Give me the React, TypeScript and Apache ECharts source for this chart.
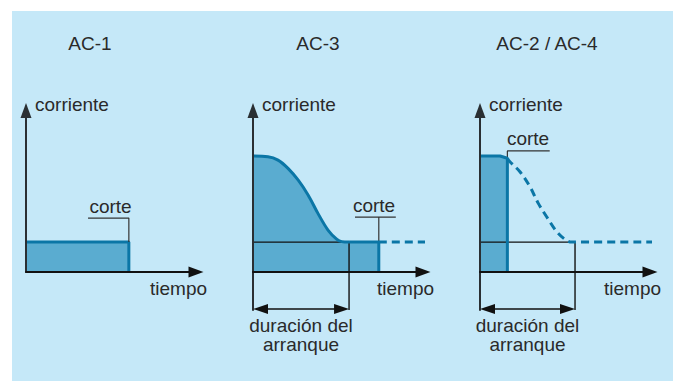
import React, { useEffect, useRef } from "react";
import * as echarts from "echarts";

// ---------- data ----------
const panelTitles = ["AC-1", "AC-3", "AC-2 / AC-4"];
const currentName = "corriente";
const timeName = "tiempo";
const cutName = "corte";
const durationName = ["duración del", "arranque"];

const timeMax = 10;
const currentMax = 10;
const currentMin = [0, -2.35, -2.35];
const nominal = 1.85;

// AC-1
const ac1Time = [0, 6.05, 6.05];
const ac1Current = [nominal, nominal, 0];
const ac1LeaderTime = [3.65, 6.05, 6.05];
const ac1LeaderCurrent = [3.34, 3.34, nominal];

// AC-3
const ac3CurveTime = [0, 0.88, 1.47, 2.06, 2.65, 3.24, 3.82, 4.41, 4.92, 5.22, 5.65];
const ac3CurveCurrent = [7.18, 7.14, 6.93, 6.42, 5.7, 4.77, 3.63, 2.6, 2.04, 1.88, 1.85];
const ac3Cut = 7.4;
const ac3Duration = 5.65;
const ac3DashEnd = 10.45;
const ac3LeaderTime = [6.0, 7.4, 7.4, 7.4, 8.4];
const ac3LeaderCurrent = [3.4, 3.4, nominal, 3.4, 3.4];

// AC-2 / AC-4
const ac24CurveTime = [0, 1.18, 1.61, 1.76, 2.35, 2.94, 3.43, 3.92, 4.51, 5.0, 5.39];
const ac24CurveCurrent = [7.18, 7.18, 7.04, 6.83, 6.21, 5.28, 4.25, 3.42, 2.5, 2.02, 1.85];
const ac24Cut = 1.61;
const ac24Duration = 5.59;
const ac24DashEnd = 10.45;
const ac24LeaderTime = [4.1, 1.61, 1.61];
const ac24LeaderCurrent = [7.5, 7.5, 7.04];

const durationArrowCurrent = -2.29;

// ---------- style / layout ----------
const BG = "#c5e8f8";
const FILL = "#5aacd0";
const TEAL = "#0b76a6";
const INK = "#111111";
const LEADER = "#333333";
const TEXT = "#2a2a2a";
const FONT = '19px "Liberation Sans", Arial, sans-serif';

const ORIGIN_X = [26, 253, 480];
const ZERO_Y = 272;
const AXIS_TOP = 110.5;
const X_LEN = 170;
const PX_PER_Y = (ZERO_Y - AXIS_TOP) / currentMax;
const PX_PER_X = X_LEN / timeMax;
const ARROW_W = 11;
const ARROW_L = 15;

const pts = (xs: number[], ys: number[]) => xs.map((x, i) => [x, ys[i]]);

function buildOption() {
  const base = (i: number) => ({
    type: "line",
    xAxisIndex: i,
    yAxisIndex: i,
    symbol: "none",
    silent: true,
    animation: false,
  });
  const area = { color: FILL, opacity: 1 };
  const noLine = { width: 0 };
  const teal = { color: TEAL, width: 3 };
  const dashed = { color: TEAL, width: 3, type: [8, 5] };
  const leader = { color: LEADER, width: 1.2 };
  const ink = { color: INK, width: 1.4 };
  const inset = ARROW_L / 2 / PX_PER_X;

  const bracket = (end: number) => ({
    silent: true,
    symbol: ["triangle", "triangle"],
    symbolSize: [10, ARROW_L],
    lineStyle: { color: INK, width: 1.5, type: "solid" },
    label: { show: false },
    emphasis: { disabled: true },
    data: [[{ coord: [inset, durationArrowCurrent] }, { coord: [end - inset, durationArrowCurrent] }]],
  });

  const ac3Curve = pts(ac3CurveTime, ac3CurveCurrent);
  const ac3Last = ac3CurveTime[ac3CurveTime.length - 1];
  const ac3Tail = [
    [ac3Last, nominal],
    [ac3Cut, nominal],
    [ac3Cut, 0],
  ];

  const ac24All = pts(ac24CurveTime, ac24CurveCurrent);
  const ac24Solid = ac24All.filter((p) => p[0] <= ac24Cut).concat([[ac24Cut, 0]]);
  const ac24Dash = ac24All.filter((p) => p[0] >= ac24Cut).concat([[ac24DashEnd, nominal]]);

  const series: any[] = [
    // AC-1
    { ...base(0), data: pts(ac1Time, ac1Current), areaStyle: area, lineStyle: teal, z: 2 },
    { ...base(0), data: pts(ac1LeaderTime, ac1LeaderCurrent), lineStyle: leader, z: 3 },
    // AC-3
    { ...base(1), data: ac3Curve, smooth: 0.35, areaStyle: area, lineStyle: noLine, z: 2 },
    { ...base(1), data: ac3Tail, areaStyle: area, lineStyle: noLine, z: 2 },
    {
      ...base(1),
      data: [
        [0, nominal],
        [ac3Duration, nominal],
        [ac3Duration, currentMin[1]],
      ],
      lineStyle: ink,
      z: 3,
      markLine: bracket(ac3Duration),
    },
    { ...base(1), data: ac3Curve, smooth: 0.35, lineStyle: teal, z: 4 },
    { ...base(1), data: ac3Tail, lineStyle: teal, z: 4 },
    { ...base(1), data: [[ac3Cut, nominal], [ac3DashEnd, nominal]], lineStyle: dashed, z: 4 },
    { ...base(1), data: pts(ac3LeaderTime, ac3LeaderCurrent), lineStyle: leader, z: 3 },
    // AC-2 / AC-4
    { ...base(2), data: ac24Solid, areaStyle: area, lineStyle: noLine, z: 2 },
    {
      ...base(2),
      data: [
        [0, nominal],
        [ac24Duration, nominal],
        [ac24Duration, currentMin[2]],
      ],
      lineStyle: ink,
      z: 3,
      markLine: bracket(ac24Duration),
    },
    { ...base(2), data: ac24Solid, lineStyle: teal, z: 4 },
    { ...base(2), data: ac24Dash, smooth: 0.35, lineStyle: dashed, z: 4 },
    { ...base(2), data: pts(ac24LeaderTime, ac24LeaderCurrent), lineStyle: leader, z: 3 },
  ];

  const hidden = {
    axisTick: { show: false },
    axisLabel: { show: false },
    splitLine: { show: false },
  };

  const text = (t: string, x: number, y: number, align = "center", lineHeight = 22) => ({
    type: "text",
    x,
    y,
    z: 100,
    silent: true,
    style: { text: t, fill: TEXT, font: FONT, align, verticalAlign: "middle", lineHeight },
  });

  const titleX = [90, 318, 547];
  const corteX = [110.5, 374, 528];
  const corteY = [206, 205, 138.5];
  const graphics: any[] = [
    {
      type: "rect",
      z: -10,
      silent: true,
      shape: { x: 12, y: 11, width: 673 - 12, height: 381 - 11 },
      style: { fill: BG },
    },
  ];
  ORIGIN_X.forEach((ox, i) => {
    graphics.push(text(panelTitles[i], titleX[i], 43.3));
    graphics.push(text(currentName, ox + 9, 104, "left"));
    graphics.push(text(timeName, ox + 124, 288, "left"));
    graphics.push(text(cutName, corteX[i], corteY[i]));
  });
  [301, 527.5].forEach((cx) => {
    graphics.push(text(durationName[0], cx, 325));
    graphics.push(text(durationName[1], cx, 344.2));
  });

  return {
    animation: false,
    backgroundColor: "#ffffff",
    grid: ORIGIN_X.map((left, i) => ({
      left,
      top: AXIS_TOP,
      width: X_LEN,
      height: (currentMax - currentMin[i]) * PX_PER_Y,
    })),
    xAxis: ORIGIN_X.map((_, i) => ({
      gridIndex: i,
      type: "value",
      min: 0,
      max: timeMax,
      z: 5,
      axisLine: {
        show: true,
        onZero: true,
        symbol: ["none", "triangle"],
        symbolSize: [ARROW_W, ARROW_L],
        lineStyle: { color: INK, width: 2 },
      },
      ...hidden,
    })),
    yAxis: ORIGIN_X.map((_, i) => ({
      gridIndex: i,
      type: "value",
      min: currentMin[i],
      max: currentMax,
      z: 5,
      axisLine: {
        show: true,
        onZero: true,
        symbol: ["none", "triangle"],
        symbolSize: [ARROW_W, ARROW_L],
        lineStyle: { color: "#2a2f33", width: 2 },
      },
      ...hidden,
    })),
    graphic: graphics,
    series,
  };
}

export default function App() {
  const ref = useRef<HTMLDivElement>(null);
  useEffect(() => {
    if (!ref.current) return;
    const chart = echarts.init(ref.current, undefined, { renderer: "svg" });
    chart.setOption(buildOption() as any);
    return () => chart.dispose();
  }, []);
  return (
    <div
      ref={ref}
      style={{ position: "absolute", left: 0, top: 0, width: 673, height: 381 }}
    />
  );
}
